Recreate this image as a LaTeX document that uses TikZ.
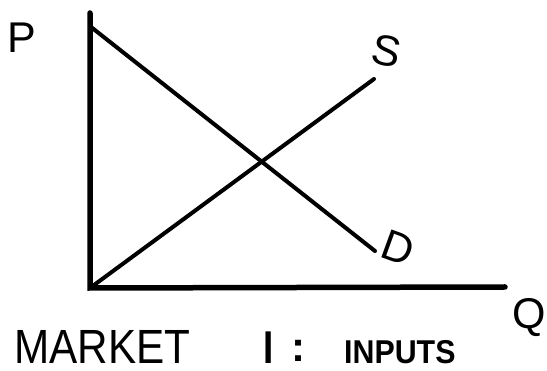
\documentclass[tikz,border=0pt]{standalone}
\usepackage{fontspec}
\setmainfont{Liberation Sans}
\begin{document}
\begin{tikzpicture}[x=1pt,y=-1pt,
  axis/.style={line width=5.5pt,line cap=round},
  curve/.style={line width=4pt,line cap=round},
  lbl/.style={inner sep=0pt,font=\fontsize{43}{43}\selectfont}]
\useasboundingbox (0,0) rectangle (547,371);
\coordinate (O) at (90,288);
\coordinate (Ptop) at (90,13);
\coordinate (Qend) at (505,287);
\coordinate (Dtop) at (91,27);
\coordinate (Dend) at (375,251);
\coordinate (Send) at (374,79);
\draw[axis] (Ptop) -- (O) -- (Qend);
\draw[curve] (Dtop) -- (Dend);
\draw[curve] (O) -- (Send);
\node[lbl] (P) at (22,38) {P};
\node[lbl,rotate=-12] (S) at (387,51) {S};
\node[lbl,rotate=-20] (D) at (398,248) {D};
\node[lbl] (Q) at (529,318) {Q};
\node[lbl,anchor=base west,xscale=0.88,font=\fontsize{48}{48}\selectfont] (M) at (14,364) {MARKET};
\node[lbl,anchor=base west,font=\bfseries\fontsize{46}{46}\selectfont,xscale=0.8] (I) at (263,364) {I};
\node[lbl,anchor=base west,font=\bfseries\fontsize{42}{42}\selectfont] (C) at (291,362) {:};
\node[lbl,anchor=base west,font=\bfseries\fontsize{33}{33}\selectfont,xscale=0.92] (N) at (344,364) {INPUTS};
\end{tikzpicture}
\end{document}
